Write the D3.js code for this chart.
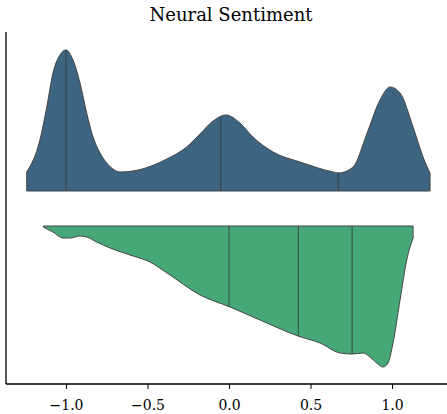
<!DOCTYPE html>
<html lang="en">
<head>
<meta charset="utf-8">
<title>Neural Sentiment</title>
<script src="https://d3js.org/d3.v7.min.js"></script>
<style>
  body { margin: 0; background: #fff; }
  text { font-family: "DejaVu Serif", serif; fill: #000; }
</style>
</head>
<body>
<script>
// data: sentiment value -> relative density
const groups = ["upper", "lower"];
const upperX = [-1.241, -1.16, -1.118, -1.08, -1.037, -1.0, -0.957, -0.914, -0.873, -0.834, -0.791, -0.75, -0.712, -0.669, -0.589, -0.485, -0.382, -0.26, -0.178, -0.098, -0.018, 0.067, 0.147, 0.27, 0.436, 0.638, 0.669, 0.761, 0.847, 0.926, 0.988, 1.049, 1.129, 1.19, 1.233];
const upperD = [0.19, 0.51, 0.84, 1.18, 1.36, 1.41, 1.31, 1.08, 0.78, 0.54, 0.38, 0.28, 0.22, 0.19, 0.20, 0.245, 0.32, 0.44, 0.57, 0.70, 0.76, 0.68, 0.54, 0.39, 0.29, 0.19, 0.18, 0.24, 0.58, 0.91, 1.04, 0.98, 0.64, 0.34, 0.18];
const upperQ = [-1.0, -0.05, 0.67];

const lowerX = [-1.139, -1.08, -1.018, -0.975, -0.914, -0.873, -0.812, -0.73, -0.607, -0.485, -0.38, -0.178, 0.006, 0.19, 0.423, 0.558, 0.681, 0.755, 0.822, 0.865, 0.906, 0.945, 0.975, 1.006, 1.049, 1.09, 1.129];
const lowerD = [0.01, 0.06, 0.12, 0.12, 0.10, 0.11, 0.16, 0.22, 0.29, 0.36, 0.47, 0.69, 0.81, 0.94, 1.10, 1.17, 1.27, 1.28, 1.27, 1.31, 1.37, 1.41, 1.37, 1.17, 0.74, 0.34, 0.12];
const lowerQ = [0.0, 0.425, 0.755];

const xTicks = [-1.0, -0.5, 0.0, 0.5, 1.0];

const W = 447, H = 414;
const plotLeft = 6, plotRight = 447, plotTop = 32, plotBottom = 384;

const svg = d3.select("body").append("svg")
  .attr("width", W).attr("height", H);

const x = d3.scaleLinear().domain([-1.368, 1.337]).range([plotLeft, plotRight]);
const y = d3.scalePoint().domain(groups).range([191, 226]);
const dens = d3.scaleLinear().domain([0, 1.41]).range([0, 141]);

function drawViolin(name, xs, ds, qs, color, dir) {
  const pts = xs.map((v, i) => ({ v: v, d: ds[i] }));
  const base = y(name);
  const area = d3.area()
    .x(p => x(p.v))
    .y0(base)
    .y1(p => base - dir * dens(p.d))
    .curve(d3.curveMonotoneX);
  svg.append("path")
    .datum(pts)
    .attr("d", area)
    .attr("fill", color)
    .attr("stroke", "#444")
    .attr("stroke-width", 1)
    .attr("stroke-linejoin", "round");

  // quartile lines
  const interp = d3.scaleLinear().domain(xs).range(ds).clamp(true);
  svg.append("g").selectAll("line")
    .data(qs)
    .join("line")
    .attr("x1", q => x(q)).attr("x2", q => x(q))
    .attr("y1", base)
    .attr("y2", q => base - dir * dens(interp(q)))
    .attr("stroke", "#333")
    .attr("stroke-opacity", 0.8)
    .attr("stroke-width", 1);
}

drawViolin("upper", upperX, upperD, upperQ, "#3d6480", 1);
drawViolin("lower", lowerX, lowerD, lowerQ, "#46a877", -1);

// axes
const xAxis = d3.axisBottom(x)
  .tickValues(xTicks)
  .tickSize(5)
  .tickPadding(11)
  .tickFormat(d => d3.format(".1f")(d).replace("-", "\u2212"));

const gx = svg.append("g")
  .attr("transform", `translate(0,${plotBottom})`)
  .call(xAxis);
gx.select(".domain").remove();
gx.selectAll(".tick line").attr("stroke", "#000").attr("stroke-width", 1);
gx.selectAll("text").attr("font-size", 14).attr("font-family", "DejaVu Serif");

svg.append("line")
  .attr("x1", plotLeft).attr("x2", plotRight)
  .attr("y1", plotBottom).attr("y2", plotBottom)
  .attr("stroke", "#000").attr("stroke-width", 1.3);
svg.append("line")
  .attr("x1", plotLeft).attr("x2", plotLeft)
  .attr("y1", plotTop).attr("y2", plotBottom)
  .attr("stroke", "#000").attr("stroke-width", 1.3);

svg.append("text")
  .attr("x", 231).attr("y", 20.5)
  .attr("text-anchor", "middle")
  .attr("font-size", 18)
  .text("Neural Sentiment");
</script>
</body>
</html>
